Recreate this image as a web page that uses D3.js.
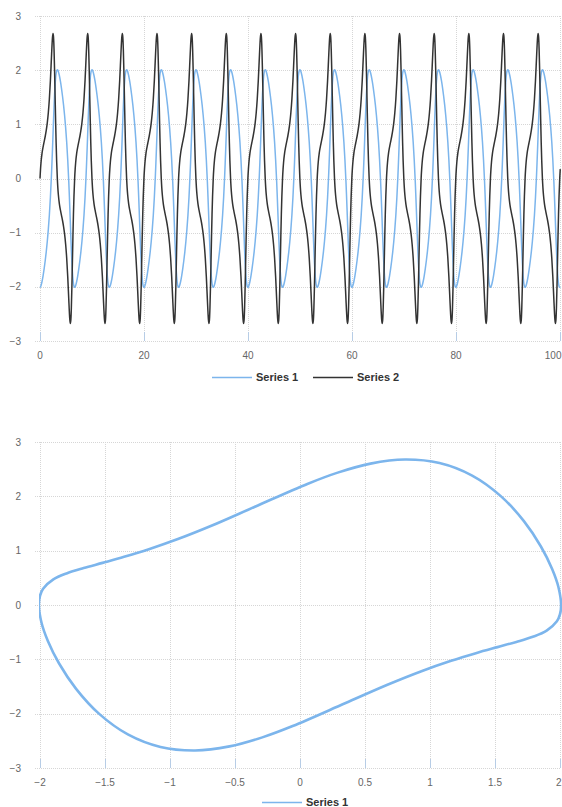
<!DOCTYPE html>
<html>
<head>
<meta charset="utf-8">
<script src="https://cdn.jsdelivr.net/npm/d3@7"></script>
<style>
  html, body { margin: 0; padding: 0; background: #fff; }
  svg { display: block; }
  text { font-family: "Liberation Sans", Arial, sans-serif; }
</style>
</head>
<body>
<svg id="chart" width="562" height="807"></svg>
<script>
// ---- Data (one half-cycle of the periodic signal) ----
// time offsets within a half cycle
const halfT = [0, 0.1, 0.2, 0.4, 0.6, 0.8, 1.0, 1.2, 1.4, 1.6, 1.8, 2.0, 2.2, 2.3, 2.4, 2.5, 2.6, 2.7, 2.8, 2.9, 3.0, 3.1, 3.2, 3.3317];
// Series 1 values over the half cycle (second half is the mirror image)
const halfSeries1 = [-2.0086, -1.9995, -1.976, -1.8973, -1.791, -1.6643, -1.5189, -1.3531, -1.1624, -0.9393, -0.6726, -0.3465, 0.0564, 0.2898, 0.5423, 0.8073, 1.0732, 1.3243, 1.5446, 1.7223, 1.8531, 1.9395, 1.9882, 2.0086];
// Series 2 values over the half cycle
const halfSeries2 = [0, 0.1731, 0.3006, 0.4718, 0.5856, 0.6798, 0.7753, 0.8864, 1.0268, 1.2134, 1.4673, 1.8088, 2.2281, 2.4363, 2.6023, 2.6777, 2.6129, 2.3818, 2.0041, 1.5434, 1.0769, 0.6626, 0.3274, 0];
const period = 6.6633;
const tMax = 100;

const seriesNames1 = ["Series 1", "Series 2"];
const seriesNames2 = ["Series 1"];
const xTicksTop = [0, 20, 40, 60, 80, 100];
const yTicksTop = [-3, -2, -1, 0, 1, 2, 3];
const xTicksPhase = [-2, -1.5, -1, -0.5, 0, 0.5, 1, 1.5, 2];
const yTicksPhase = [-3, -2, -1, 0, 1, 2, 3];

const colors = ["#7cb5ec", "#333333"];

// ---- Build the repeated time series from the measured half cycle ----
const n = halfT.length;
const timeSeries = [];
outer:
for (let c = 0; ; c++) {
  for (let h = 0; h < 2; h++) {
    const sign = h === 0 ? 1 : -1;
    for (let i = 0; i < n - 1; i++) {
      const t = c * period + h * period / 2 + halfT[i];
      timeSeries.push({ t, s1: sign * halfSeries1[i], s2: sign * halfSeries2[i] });
      if (t > tMax) break outer;
    }
  }
}
const phasePts = [];
for (let h = 0; h < 2; h++) {
  const sign = h === 0 ? 1 : -1;
  for (let i = 0; i < n - 1; i++) phasePts.push([sign * halfSeries1[i], sign * halfSeries2[i]]);
}

const svg = d3.select("#chart");
const fmt = d3.format("");

function drawFrame(g, x, y, xTicks, yTicks, id) {
  const [x0, x1] = x.range();
  const [y1, y0] = y.range();
  // clip
  svg.append("clipPath").attr("id", id).append("rect")
    .attr("x", x0 - 1).attr("y", y0 - 2).attr("width", x1 - x0 + 3).attr("height", y1 - y0 + 4);
  // horizontal grid
  g.selectAll(".hg").data(yTicks).join("line")
    .attr("x1", x0 - 5).attr("x2", x1)
    .attr("y1", d => Math.round(y(d)) + 0.5).attr("y2", d => Math.round(y(d)) + 0.5)
    .attr("stroke", "#d6d6d6").attr("stroke-dasharray", "1,1");
  // vertical grid
  g.selectAll(".vg").data(xTicks).join("line")
    .attr("x1", d => Math.round(x(d)) + 0.5).attr("x2", d => Math.round(x(d)) + 0.5)
    .attr("y1", y0).attr("y2", y1)
    .attr("stroke", "#d6d6d6").attr("stroke-dasharray", "1,1");
  // small bottom tick marks
  g.selectAll(".tk").data(xTicks).join("line")
    .attr("x1", d => Math.round(x(d)) + 0.5).attr("x2", d => Math.round(x(d)) + 0.5)
    .attr("y1", y1 - 9).attr("y2", y1)
    .attr("stroke", "#b7cde6").attr("stroke-width", 1);
  // y labels
  g.selectAll(".yl").data(yTicks).join("text")
    .attr("x", 21).attr("y", d => y(d)).attr("dy", "0.35em")
    .attr("text-anchor", "end").attr("font-size", 10).attr("fill", "#666")
    .text(d => fmt(d));
  // x labels
  const xl = g.selectAll(".xl").data(xTicks).join("text")
    .attr("y", y1 + 14).attr("dy", "0.35em")
    .attr("text-anchor", "middle").attr("font-size", 10).attr("fill", "#666")
    .text(d => fmt(d));
  xl.each(function(d) {
    const w = this.getComputedTextLength();
    let cx = x(d);
    if (cx + w / 2 > 561.5) cx = 561.5 - w / 2;
    d3.select(this).attr("x", cx);
  });
}

function drawLegend(names, cy, center) {
  const g = svg.append("g");
  const items = g.selectAll("g").data(names).join("g");
  items.append("line").attr("x1", 0).attr("x2", 40).attr("y1", 0.5).attr("y2", 0.5)
    .attr("stroke", (d, i) => colors[i]).attr("stroke-width", 1.5);
  items.append("text").attr("x", 44).attr("y", 0).attr("dy", "0.35em")
    .attr("font-size", 11).attr("font-weight", "bold").attr("fill", "#333").text(d => d);
  let widths = [];
  items.each(function() { widths.push(d3.select(this).select("text").node().getComputedTextLength() + 44); });
  const gap = 15;
  const total = d3.sum(widths) + gap * (widths.length - 1);
  let xPos = center - total / 2;
  items.each(function(d, i) {
    d3.select(this).attr("transform", `translate(${Math.round(xPos)},${cy})`);
    xPos += widths[i] + gap;
  });
}

// ---- Chart 1: time series ----
const x1 = d3.scaleLinear().domain([0, 100]).range([40, 560]);
const y1 = d3.scaleLinear().domain([-3, 3]).range([341, 16]);
const g1 = svg.append("g");
drawFrame(g1, x1, y1, xTicksTop, yTicksTop, "clip1");
const lineS1 = d3.line().x(d => x1(d.t)).y(d => y1(d.s1)).curve(d3.curveMonotoneX);
const lineS2 = d3.line().x(d => x1(d.t)).y(d => y1(d.s2)).curve(d3.curveMonotoneX);
const lg1 = svg.append("g").attr("clip-path", "url(#clip1)");
lg1.append("path").datum(timeSeries).attr("d", lineS1)
  .attr("fill", "none").attr("stroke", colors[0]).attr("stroke-width", 1.5);
lg1.append("path").datum(timeSeries).attr("d", lineS2)
  .attr("fill", "none").attr("stroke", colors[1]).attr("stroke-width", 1.5);
drawLegend(seriesNames1, 377, 305.5);

// ---- Chart 2: phase portrait ----
const x2 = d3.scaleLinear().domain([-2, 2]).range([40, 560]);
const y2 = d3.scaleLinear().domain([-3, 3]).range([768, 442]);
const g2 = svg.append("g");
drawFrame(g2, x2, y2, xTicksPhase, yTicksPhase, "clip2");
const loop = d3.line().x(d => x2(d[0])).y(d => y2(d[1])).curve(d3.curveCatmullRomClosed.alpha(0.5));
svg.append("g").attr("clip-path", "url(#clip2)")
  .append("path").datum(phasePts).attr("d", loop)
  .attr("fill", "none").attr("stroke", colors[0]).attr("stroke-width", 2.6);
drawLegend(seriesNames2, 802, 305.5);
</script>
</body>
</html>
